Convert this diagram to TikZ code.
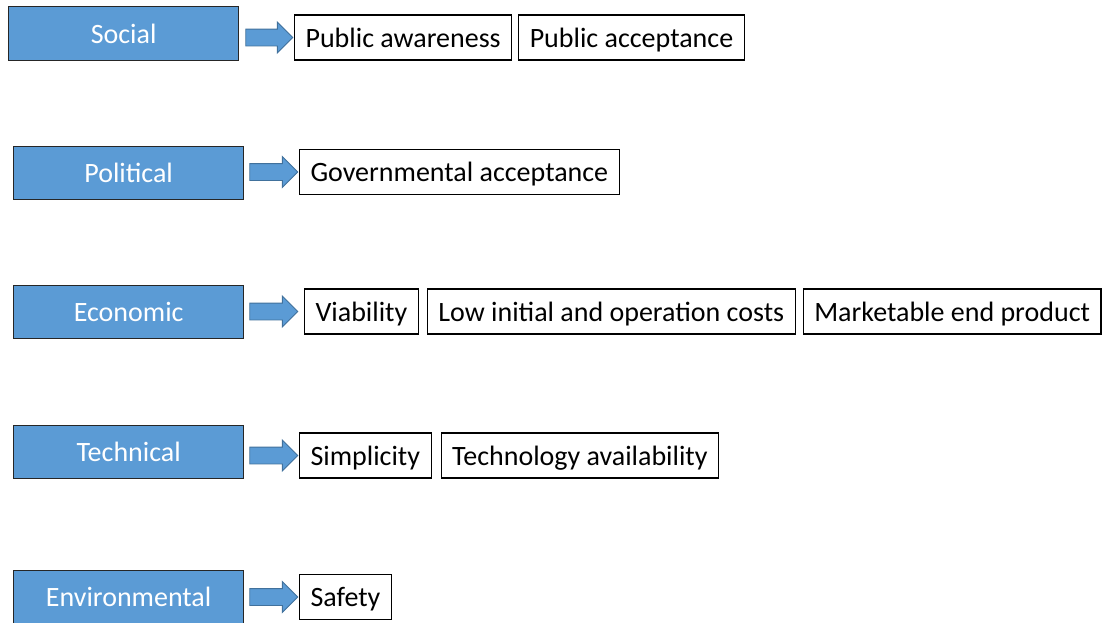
\documentclass[tikz,border=0pt]{standalone}
\usepackage{fontspec}
\setmainfont{Carlito}
\usetikzlibrary{positioning,shapes.arrows}
\definecolor{Steel}{HTML}{5B9BD5}
\definecolor{SteelDark}{HTML}{41719C}
\definecolor{Edge}{HTML}{262626}
\begin{document}
\begin{tikzpicture}[x=1pt,y=1pt,node distance=7pt,
 factor/.style={draw=Edge,line width=1.3pt,fill=Steel,text=white,anchor=north west,
   minimum width=230pt,minimum height=53pt,inner sep=0pt,font=\fontsize{28}{32}\selectfont},
 item/.style={draw=black,line width=1.1pt,fill=white,minimum height=45pt,inner xsep=11pt,
   inner ysep=0pt,text height=22pt,text depth=3pt,font=\fontsize{28}{32}\selectfont},
 first/.style={item,anchor=west},
 blockarrow/.style={single arrow,draw=SteelDark,line width=0.9pt,fill=Steel,
   minimum height=48pt,inner sep=0pt,inner ysep=8pt,single arrow head extend=7pt,anchor=west}]
\clip (0,0) rectangle (1102,-622);
\node[factor,minimum height=54pt] (social) at (8,-6) {Social};
\node[factor] (political) at (13,-146) {Political};
\node[factor] (economic) at (13,-285) {Economic};
\node[factor] (technical) at (13,-425) {Technical};
\node[factor] (environmental) at (13,-570) {Environmental};
\node[first] (awareness) at (294,-37.5) {Public awareness};
\node[item,right=6pt of awareness] (acceptance) {Public acceptance};
\node[first] (govern) at (299,-172) {Governmental acceptance};
\node[first] (viability) at (304,-311.5) {Viability};
\node[item,right=8pt of viability] (costs) {Low initial and operation costs};
\node[item,right=7pt of costs] (product) {Marketable end product};
\node[first] (simplicity) at (299,-455.5) {Simplicity};
\node[item,right=9pt of simplicity] (techavail) {Technology availability};
\node[first] (safety) at (299,-597) {Safety};
\node[blockarrow,xshift=6pt,minimum height=47pt] (arrsocial) at (social.east |- awareness.west) {};
\node[blockarrow,xshift=5pt] (arrpolitical) at (political.east |- govern.west) {};
\node[blockarrow,xshift=5pt] (arreconomic) at (economic.east |- viability.west) {};
\node[blockarrow,xshift=5pt] (arrtechnical) at (technical.east |- simplicity.west) {};
\node[blockarrow,xshift=5pt] (arrenvironmental) at (environmental.east |- safety.west) {};
\end{tikzpicture}
\end{document}
